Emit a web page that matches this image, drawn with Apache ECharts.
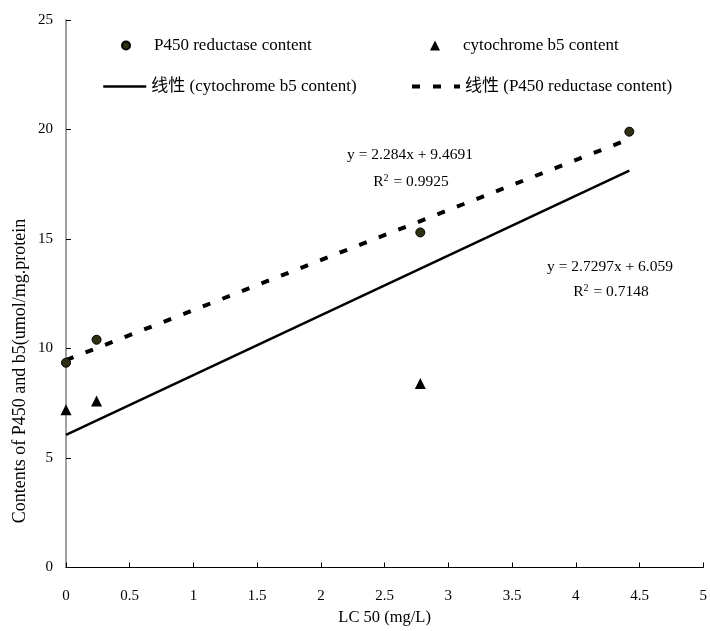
<!DOCTYPE html>
<html><head><meta charset="utf-8">
<script src="https://cdn.jsdelivr.net/npm/echarts@6/dist/echarts.min.js"></script>
<style>html,body{margin:0;padding:0;background:#fff}#c{width:710px;height:631px}</style>
</head><body><div id="c"></div>
<script>
// Data
const xP450 = [0, 0.24, 2.78, 4.42];
const yP450 = [9.35, 10.4, 15.3, 19.9];
const xB5 = [0, 0.24, 2.78];
const yB5 = [7.2, 7.6, 8.4];
const trendX = [0, 4.42];
const fitP450 = { slope: 2.284, intercept: 9.4691, eq: 'y = 2.284x + 9.4691', r2: '0.9925' };
const fitB5 = { slope: 2.7297, intercept: 6.059, eq: 'y = 2.7297x + 6.059', r2: '0.7148' };
const xTicks = { min: 0, max: 5, interval: 0.5 };
const yTicks = { min: 0, max: 25, interval: 5 };
const names = ['P450 reductase content', 'cytochrome b5 content', '线性 (cytochrome b5 content)', '线性 (P450 reductase content)'];

const FONT = '"Liberation Serif", "Noto Sans CJK SC", serif';
const pts = (xs, ys) => xs.map((x, i) => [x, ys[i]]);
const line = (fit) => trendX.map(x => [x, fit.slope * x + fit.intercept]);

const chart = echarts.init(document.getElementById('c'), null, { renderer: 'canvas' });
const LFS = 17;
const legendBase = { orient: 'horizontal', itemGap: 0, padding: 0, selectedMode: false };
const lts = (pad) => ({ fontFamily: FONT, fontSize: LFS, color: '#000', padding: [0, 0, 0, pad] });
const EFS = 15.5;
const r2Rich = { a: { fontFamily: FONT, fontSize: EFS, color: '#000' }, s: { fontFamily: FONT, fontSize: 10, color: '#000', verticalAlign: 'bottom', padding: [0, 1, 7, 0] } };
const noSym = { color: 'rgba(0,0,0,0)', borderColor: 'rgba(0,0,0,0)', borderWidth: 0 };
const dashPattern = [8, 13];

chart.setOption({
  animation: false,
  backgroundColor: '#fff',
  grid: { left: 66, right: 2, top: 20, bottom: 63, containLabel: false },
  xAxis: {
    type: 'value', min: xTicks.min, max: xTicks.max, interval: xTicks.interval,
    name: 'LC 50 (mg/L)', nameLocation: 'middle', nameGap: 42,
    nameTextStyle: { fontFamily: FONT, fontSize: 16.5, color: '#000' },
    axisLine: { lineStyle: { color: '#000', width: 1 } },
    axisTick: { inside: true, length: 5, lineStyle: { color: '#000' } },
    axisLabel: { fontFamily: FONT, fontSize: 15, color: '#000', margin: 21 },
    splitLine: { show: false }
  },
  yAxis: {
    type: 'value', min: yTicks.min, max: yTicks.max, interval: yTicks.interval,
    axisLine: { show: true, lineStyle: { color: '#808080', width: 1.5 } },
    axisTick: { show: true, inside: true, length: 5, lineStyle: { color: '#000' } },
    axisLabel: { fontFamily: FONT, fontSize: 15, color: '#000', margin: 13 },
    splitLine: { show: false }
  },
  legend: [
    Object.assign({}, legendBase, { data: [names[0]], left: 121, top: 37, itemWidth: 8, itemHeight: 8, textStyle: lts(19) }),
    Object.assign({}, legendBase, { data: [names[1]], left: 430, top: 37, itemWidth: 10, itemHeight: 10, textStyle: lts(18) }),
    Object.assign({}, legendBase, { data: [names[2]], left: 102, top: 78, itemWidth: 43, itemHeight: 10, textStyle: lts(0), itemStyle: { opacity: 0 }, lineStyle: { type: 'solid', width: 2.5, color: '#000', opacity: 1 } }),
    Object.assign({}, legendBase, { data: [names[3]], left: 410, top: 78, itemWidth: 48, itemHeight: 10, textStyle: lts(0), itemStyle: { opacity: 0 }, lineStyle: { type: dashPattern, width: 4, color: '#000', opacity: 1 } })
  ],
  series: [
    { name: names[2], type: 'line', data: line(fitB5), symbol: 'none', showSymbol: false, lineStyle: { color: '#000', width: 2.5, type: 'solid' }, itemStyle: noSym, z: 2 },
    { name: names[3], type: 'line', data: line(fitP450), symbol: 'none', showSymbol: false, lineStyle: { color: '#000', width: 4, type: dashPattern }, itemStyle: noSym, z: 2 },
    { name: names[0], type: 'scatter', data: pts(xP450, yP450), symbol: 'circle', symbolSize: 9, itemStyle: { color: '#2f2f14', borderColor: '#000', borderWidth: 1, opacity: 1 }, z: 3 },
    { name: names[1], type: 'scatter', data: pts(xB5, yB5), symbol: 'triangle', symbolSize: 11, itemStyle: { color: '#000', opacity: 1 }, z: 3 }
  ],
  graphic: [
    { type: 'text', x: 20, y: 371, rotation: Math.PI / 2, style: { text: 'Contents of P450 and b5(umol/mg.protein', font: '18px ' + FONT, fill: '#000', align: 'center', verticalAlign: 'middle' } },
    { type: 'text', x: 410, y: 155, style: { text: fitP450.eq, font: EFS + 'px ' + FONT, fill: '#000', align: 'center', verticalAlign: 'middle' } },
    { type: 'text', x: 411, y: 182, style: { text: '{a|R}{s|2}{a| = ' + fitP450.r2 + '}', rich: r2Rich, align: 'center', verticalAlign: 'middle' } },
    { type: 'text', x: 610, y: 267, style: { text: fitB5.eq, font: EFS + 'px ' + FONT, fill: '#000', align: 'center', verticalAlign: 'middle' } },
    { type: 'text', x: 611, y: 292, style: { text: '{a|R}{s|2}{a| = ' + fitB5.r2 + '}', rich: r2Rich, align: 'center', verticalAlign: 'middle' } }
  ]
});
</script></body></html>
